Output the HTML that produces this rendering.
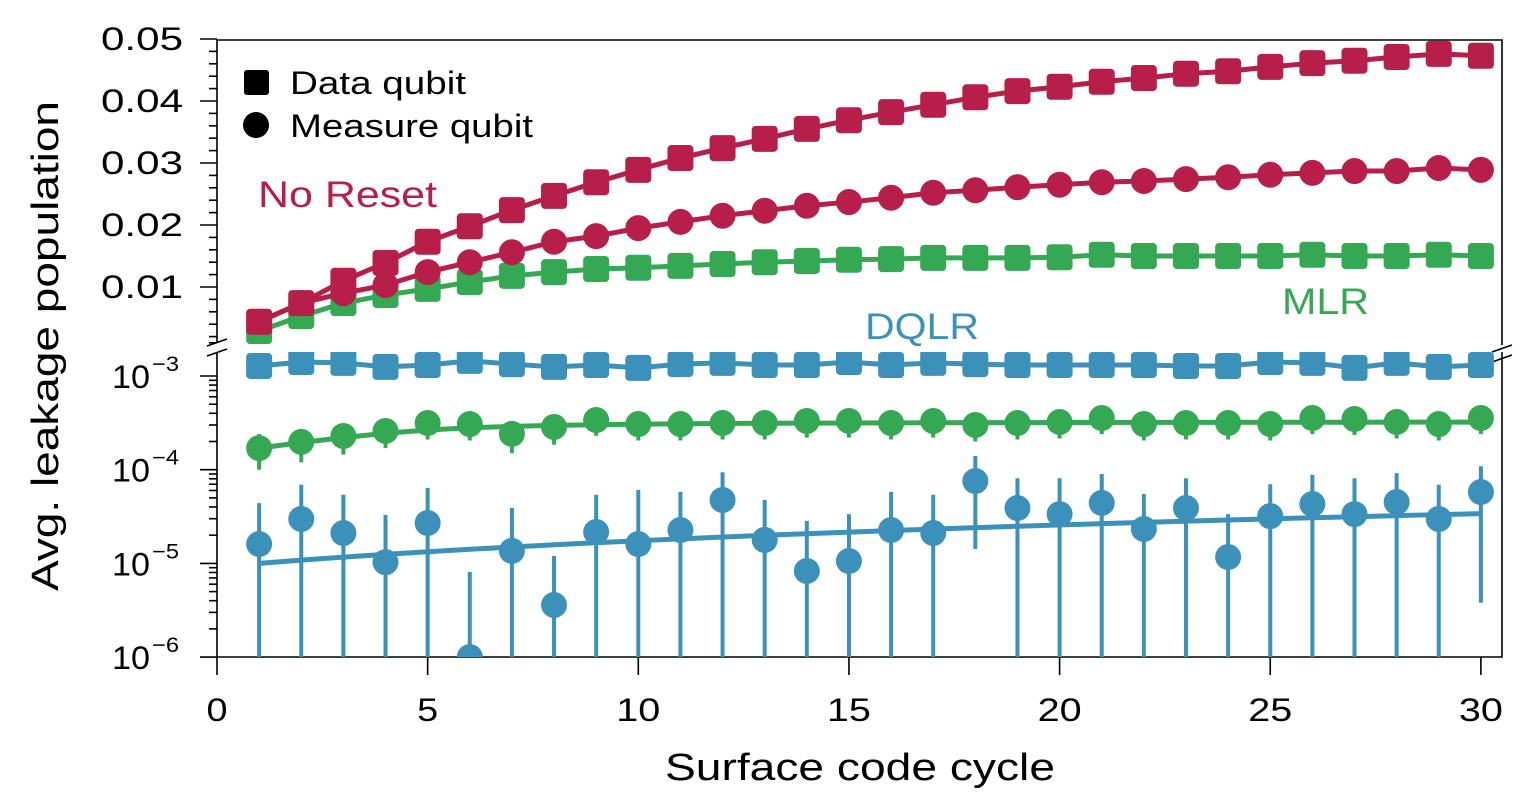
<!DOCTYPE html>
<html><head><meta charset="utf-8"><style>
html,body{margin:0;padding:0;background:#fff;}
svg{display:block;font-family:"Liberation Sans",sans-serif;}
</style></head><body>
<svg id="chart" width="1532" height="802" viewBox="0 0 1532 802" xmlns="http://www.w3.org/2000/svg"></svg>
<script>
const cycles = Array.from({length:30},(_,i)=>i+1);
const noResetData = [0.0044,0.0074,0.011,0.0139,0.0173,0.0198,0.0224,0.0247,0.0269,0.0289,0.0308,0.0324,0.0339,0.0355,0.0369,0.0382,0.0394,0.0406,0.0416,0.0423,0.0431,0.0437,0.0444,0.0448,0.0455,0.0461,0.0465,0.0471,0.0476,0.0473];
const noResetMeasure = [0.0044,0.0074,0.009,0.0103,0.0124,0.014,0.0156,0.0173,0.0182,0.0195,0.0205,0.0215,0.0223,0.0231,0.0237,0.0244,0.0252,0.0256,0.0261,0.0265,0.0269,0.0271,0.0274,0.0277,0.0281,0.0284,0.0287,0.0287,0.0292,0.0289];
const mlrData = [0.0029,0.0053,0.0074,0.0087,0.0097,0.0108,0.0118,0.0124,0.0129,0.0131,0.0134,0.0137,0.014,0.0142,0.0144,0.0145,0.0147,0.0147,0.0147,0.0148,0.0152,0.015,0.015,0.015,0.015,0.0152,0.015,0.015,0.0152,0.015];
const dqlrData = [1.28e-3,1.41e-3,1.38e-3,1.25e-3,1.31e-3,1.45e-3,1.34e-3,1.25e-3,1.31e-3,1.22e-3,1.34e-3,1.38e-3,1.31e-3,1.31e-3,1.41e-3,1.31e-3,1.38e-3,1.34e-3,1.31e-3,1.31e-3,1.31e-3,1.31e-3,1.28e-3,1.28e-3,1.41e-3,1.38e-3,1.22e-3,1.38e-3,1.25e-3,1.31e-3];
const mlrMeasure = [1.7e-4,1.98e-4,2.29e-4,2.59e-4,3.15e-4,3.07e-4,2.41e-4,2.86e-4,3.39e-4,3.07e-4,3.07e-4,3.15e-4,3.15e-4,3.31e-4,3.31e-4,3.15e-4,3.31e-4,3.0e-4,3.15e-4,3.23e-4,3.56e-4,3.07e-4,3.15e-4,3.15e-4,3.07e-4,3.56e-4,3.48e-4,3.23e-4,3.07e-4,3.56e-4];
const mlrMeasureLo = [1.0e-4,1.2e-4,1.45e-4,1.7e-4,2.1e-4,2.05e-4,1.5e-4,1.85e-4,2.3e-4,2.05e-4,2.05e-4,2.1e-4,2.1e-4,2.2e-4,2.2e-4,2.1e-4,2.2e-4,2.0e-4,2.1e-4,2.15e-4,2.4e-4,2.05e-4,2.1e-4,2.1e-4,2.05e-4,2.4e-4,2.35e-4,2.15e-4,2.05e-4,2.4e-4];
const mlrMeasureHi = [2.4e-4,2.7e-4,3.1e-4,3.5e-4,4.2e-4,4.1e-4,3.3e-4,3.8e-4,4.5e-4,4.1e-4,4.1e-4,4.2e-4,4.2e-4,4.4e-4,4.4e-4,4.2e-4,4.4e-4,4.0e-4,4.2e-4,4.3e-4,4.7e-4,4.1e-4,4.2e-4,4.2e-4,4.1e-4,4.7e-4,4.6e-4,4.3e-4,4.1e-4,4.7e-4];
const mlrMeasureFit = [1.7e-4,1.95e-4,2.2e-4,2.45e-4,2.65e-4,2.8e-4,2.9e-4,2.97e-4,3.02e-4,3.06e-4,3.09e-4,3.11e-4,3.13e-4,3.14e-4,3.15e-4,3.16e-4,3.17e-4,3.18e-4,3.18e-4,3.19e-4,3.19e-4,3.2e-4,3.2e-4,3.2e-4,3.21e-4,3.21e-4,3.21e-4,3.22e-4,3.22e-4,3.22e-4];
const dqlrMeasure = [1.61e-5,2.98e-5,2.11e-5,1.03e-5,2.7e-5,1.0e-6,1.36e-5,3.6e-6,2.16e-5,1.61e-5,2.27e-5,4.75e-5,1.78e-5,8.3e-6,1.06e-5,2.27e-5,2.11e-5,7.57e-5,3.9e-5,3.36e-5,4.42e-5,2.33e-5,3.9e-5,1.17e-5,3.2e-5,4.3e-5,3.36e-5,4.52e-5,2.98e-5,5.78e-5];
const dqlrMeasureHi = [4.4e-5,6.9e-5,5.4e-5,3.3e-5,6.4e-5,8.1e-6,3.9e-5,1.2e-5,5.4e-5,6.1e-5,5.8e-5,9.4e-5,4.75e-5,2.84e-5,3.36e-5,5.8e-5,5.4e-5,1.4e-4,8.1e-5,8.1e-5,9.0e-5,5.5e-5,8.1e-5,3.36e-5,7.0e-5,8.8e-5,8.1e-5,9.2e-5,6.9e-5,1.09e-4];
const dqlrMeasureLo = [1e-7,1e-7,1e-7,1e-7,1e-7,1e-7,1e-7,1e-7,1e-7,1e-7,1e-7,1e-7,1e-7,1e-7,1e-7,1e-7,1e-7,1.43e-5,1e-7,1e-7,1e-7,1e-7,1e-7,1e-7,1e-7,1e-7,1e-7,1e-7,1e-7,3.8e-6];
const dqlrFitX = [1,30];
const dqlrFitY = [1.0e-5,3.4e-5];
const xTicks = [0,5,10,15,20,25,30];
const linTicks = [0.01,0.02,0.03,0.04,0.05];
const logTicks = [-3,-4,-5,-6];

const C_RED='#B81E4A', C_GREEN='#35A853', C_BLUE='#3C91BA';
const svg=document.getElementById('chart');
const NS='http://www.w3.org/2000/svg';
const X0=217, X1=1502;
const xs=v=>217+v*42.13;
const yLin=v=>349-v*6200;
const yLog=v=>376+(-3-Math.log10(v))*93.7;
const yLogC=v=>Math.min(657,yLog(v));
function mk(tag,attrs,parent){const e=document.createElementNS(NS,tag);for(const k in attrs)e.setAttribute(k,attrs[k]);(parent||svg).appendChild(e);return e;}
const SQ='spacingAndGlyphs';

const defs=mk('defs',{});
const cp=mk('clipPath',{id:'cb'},defs);mk('rect',{x:X0,y:352,width:X1-X0,height:305},cp);

const frame=mk('g',{});


mk('path',{d:`M${X0},342 L${X0},40 L${X1},40 L${X1},345 M${X1},352 L${X1},657 L${X0},657 L${X0},352`,fill:'none',stroke:'#000','stroke-width':1.6},frame);
mk('path',{d:`M${X0-10},346 L${X0+10},339 M${X0-10},356 L${X0+10},349 M${X1-10},352 L${X1+10},345 M${X1-10},362 L${X1+10},355`,stroke:'#000','stroke-width':1.6},frame);

const ytl=mk('g',{});


for(let k=1;k<=25;k++){const v=k*0.002;const y=yLin(v);const major=k%5===0;
 mk('line',{x1:X0-(major?17:8),x2:X0,y1:y,y2:y,stroke:'#000','stroke-width':1.6},ytl);}
mk('line',{x1:X0-8,x2:X0,y1:yLin(0.001),y2:yLin(0.001),stroke:'#000','stroke-width':1.6},ytl);
linTicks.forEach(v=>{const t=mk('text',{x:183,y:yLin(v)+11,'text-anchor':'end','font-size':32,fill:'#000',textLength:82,lengthAdjust:SQ},ytl);t.textContent=v.toFixed(2);});
const ytg=mk('g',{});


logTicks.forEach(e=>{mk('line',{x1:X0-17,x2:X0,y1:yLog(10**e),y2:yLog(10**e),stroke:'#000','stroke-width':1.6},ytg);
 const t=mk('text',{x:150,y:yLog(10**e)+12,'text-anchor':'end','font-size':32,fill:'#000',textLength:38,lengthAdjust:SQ},ytg);t.textContent='10';
 const s=mk('text',{x:152,y:yLog(10**e)-5,'text-anchor':'start','font-size':21,fill:'#000',textLength:27,lengthAdjust:SQ},ytg);s.textContent='−'+(-e);
 if(e>-6)for(let m=2;m<=9;m++){const y=yLog(m*10**(e-1));mk('line',{x1:X0-8,x2:X0,y1:y,y2:y,stroke:'#000','stroke-width':1.6},ytg);}
});
for(let m=2;m<=3;m++){const y=yLog(m*1e-3);if(y>352)mk('line',{x1:X0-8,x2:X0,y1:y,y2:y,stroke:'#000','stroke-width':1.6},ytg);}
const xt=mk('g',{});


xTicks.forEach(v=>{mk('line',{x1:xs(v),x2:xs(v),y1:657,y2:675,stroke:'#000','stroke-width':1.6},xt);
 const w=String(v).length>1?44:21;
 const t=mk('text',{x:xs(v),y:721,'text-anchor':'middle','font-size':32,fill:'#000',textLength:w,lengthAdjust:SQ},xt);t.textContent=v;});

const xtitle=mk('text',{x:860,y:780,'text-anchor':'middle','font-size':38,fill:'#000',textLength:390,lengthAdjust:SQ});xtitle.textContent='Surface code cycle';


const ytitle=mk('text',{x:0,y:0,transform:'translate(58,346) rotate(-90)','text-anchor':'middle','font-size':38,fill:'#000',textLength:490,lengthAdjust:SQ});ytitle.textContent='Avg. leakage population';



function square(g,x,y,c){mk('rect',{x:x-13,y:y-13,width:26,height:26,rx:4,fill:c},g);}
function circle(g,x,y,c){mk('circle',{cx:x,cy:y,r:13,fill:c},g);}
function series(name,vals,yf,c,shape,line,clip){
 const g=mk('g',clip?{'clip-path':'url(#cb)'}:{});
 
 
 if(line){mk('polyline',{points:cycles.map((t,i)=>xs(t)+','+yf(line[i])).join(' '),fill:'none',stroke:c,'stroke-width':5,'stroke-linejoin':'round'},g);}
 vals.forEach((v,i)=>shape(g,xs(cycles[i]),yf(v),c));
 return g;}
function errbars(name,lo,hi,yf,c){
 const g=mk('g',{'clip-path':'url(#cb)'});
 
 
 cycles.forEach((t,i)=>mk('line',{x1:xs(t),x2:xs(t),y1:yLogC(lo[i]),y2:yf(hi[i]),stroke:c,'stroke-width':4},g));}

errbars('dqlr-measure-error-bars',dqlrMeasureLo,dqlrMeasureHi,yLog,C_BLUE);
const fit=mk('g',{'clip-path':'url(#cb)'});


{const pts=[];for(let k=0;k<=40;k++){const f=k/40;const x=dqlrFitX[0]+f*(dqlrFitX[1]-dqlrFitX[0]);const v=dqlrFitY[0]+f*(dqlrFitY[1]-dqlrFitY[0]);pts.push(xs(x)+','+yLog(v));}
 mk('polyline',{points:pts.join(' '),fill:'none',stroke:C_BLUE,'stroke-width':5},fit);}
series('dqlr-measure-points',dqlrMeasure,yLog,C_BLUE,circle,null,true);
errbars('mlr-measure-error-bars',mlrMeasureLo,mlrMeasureHi,yLog,C_GREEN);
series('mlr-measure-qubit',mlrMeasure,yLog,C_GREEN,circle,mlrMeasureFit,true);
series('dqlr-data-qubit',dqlrData,yLog,C_BLUE,square,dqlrData,true);
series('mlr-data-qubit',mlrData,yLin,C_GREEN,square,mlrData,false);
series('no-reset-measure-qubit',noResetMeasure,yLin,C_RED,circle,noResetMeasure,false);
series('no-reset-data-qubit',noResetData,yLin,C_RED,square,noResetData,false);

const lg=mk('g',{});


mk('rect',{x:244,y:70,width:25,height:25,rx:3,fill:'#000'},lg);
let t=mk('text',{x:290,y:94,'font-size':32,fill:'#000',textLength:176,lengthAdjust:SQ},lg);t.textContent='Data qubit';
mk('circle',{cx:256,cy:125,r:13,fill:'#000'},lg);
t=mk('text',{x:290,y:137,'font-size':32,fill:'#000',textLength:243,lengthAdjust:SQ},lg);t.textContent='Measure qubit';
function lab(txt,x,y,c,n,w){const e=mk('text',{x:x,y:y,'font-size':37,fill:c,textLength:w,lengthAdjust:SQ});e.textContent=txt;
 
 }
lab('No Reset',258,207,C_RED,'no-reset-label',179);
lab('DQLR',865,339,C_BLUE,'dqlr-label',114);
lab('MLR',1282,314,C_GREEN,'mlr-label',87);
</script>
</body></html>
